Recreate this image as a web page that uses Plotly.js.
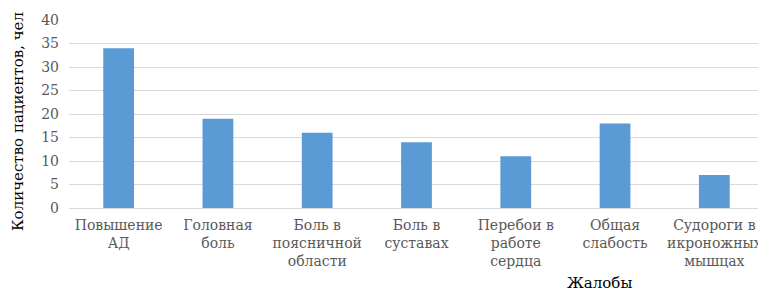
<!DOCTYPE html>
<html><head><meta charset="utf-8">
<script src="https://cdn.plot.ly/plotly-3.0.1.min.js"></script>
<style>html,body{margin:0;padding:0;background:#fff}</style>
</head><body><div id="chart" style="width:758px;height:293px"></div>
<script>
const categories = ["Повышение<br>АД", "Головная<br>боль", "Боль в<br>поясничной<br>области", "Боль в<br>суставах", "Перебои в<br>работе<br>сердца", "Общая<br>слабость", "Судороги в<br>икроножных<br>мышцах"];
const values = [34, 19, 16, 14, 11, 18, 7];
const yTicks = [0, 5, 10, 15, 20, 25, 30, 35, 40];
const FONT = 'DejaVu Serif';

Plotly.newPlot('chart', [{
  type: 'bar', x: categories, y: values,
  marker: {color: '#5B9BD5'}, width: 0.31, hoverinfo: 'none'
}], {
  width: 758, height: 293,
  margin: {l: 69, r: 0, t: 20, b: 85, pad: 0},
  paper_bgcolor: '#fff', plot_bgcolor: '#fff',
  showlegend: false,
  font: {family: FONT, color: '#595959', size: 14},
  xaxis: {range: [-0.5, 6.44], tickfont: {family: FONT, size: 14, color: '#595959'}, ticks: '', showgrid: false, zeroline: false,
    showline: true, linecolor: '#d9d9d9', linewidth: 1, tickangle: 0, ticklabelstandoff: 4},
  yaxis: {range: [0, 40], tickvals: yTicks, ticktext: yTicks.map(String), tickfont: {family: FONT, size: 14, color: '#595959'},
    showgrid: true, gridcolor: '#d9d9d9', zeroline: false, ticks: '', ticklen: 0, ticklabelstandoff: 9},
  annotations: [
    {text: 'Жалобы', xref: 'paper', yref: 'paper', x: 0.77, y: 0, yshift: -75, showarrow: false,
     xanchor: 'center', yanchor: 'middle', font: {family: FONT, size: 15, color: '#000'}},
    {text: 'Количество пациентов, чел', xref: 'paper', yref: 'paper', x: 0, xshift: -51, y: 0.5, yshift: -8,
     textangle: -90, showarrow: false, xanchor: 'center', yanchor: 'middle', font: {family: FONT, size: 15, color: '#000'}}
  ]
}, {staticPlot: true, displayModeBar: false});
</script></body></html>
